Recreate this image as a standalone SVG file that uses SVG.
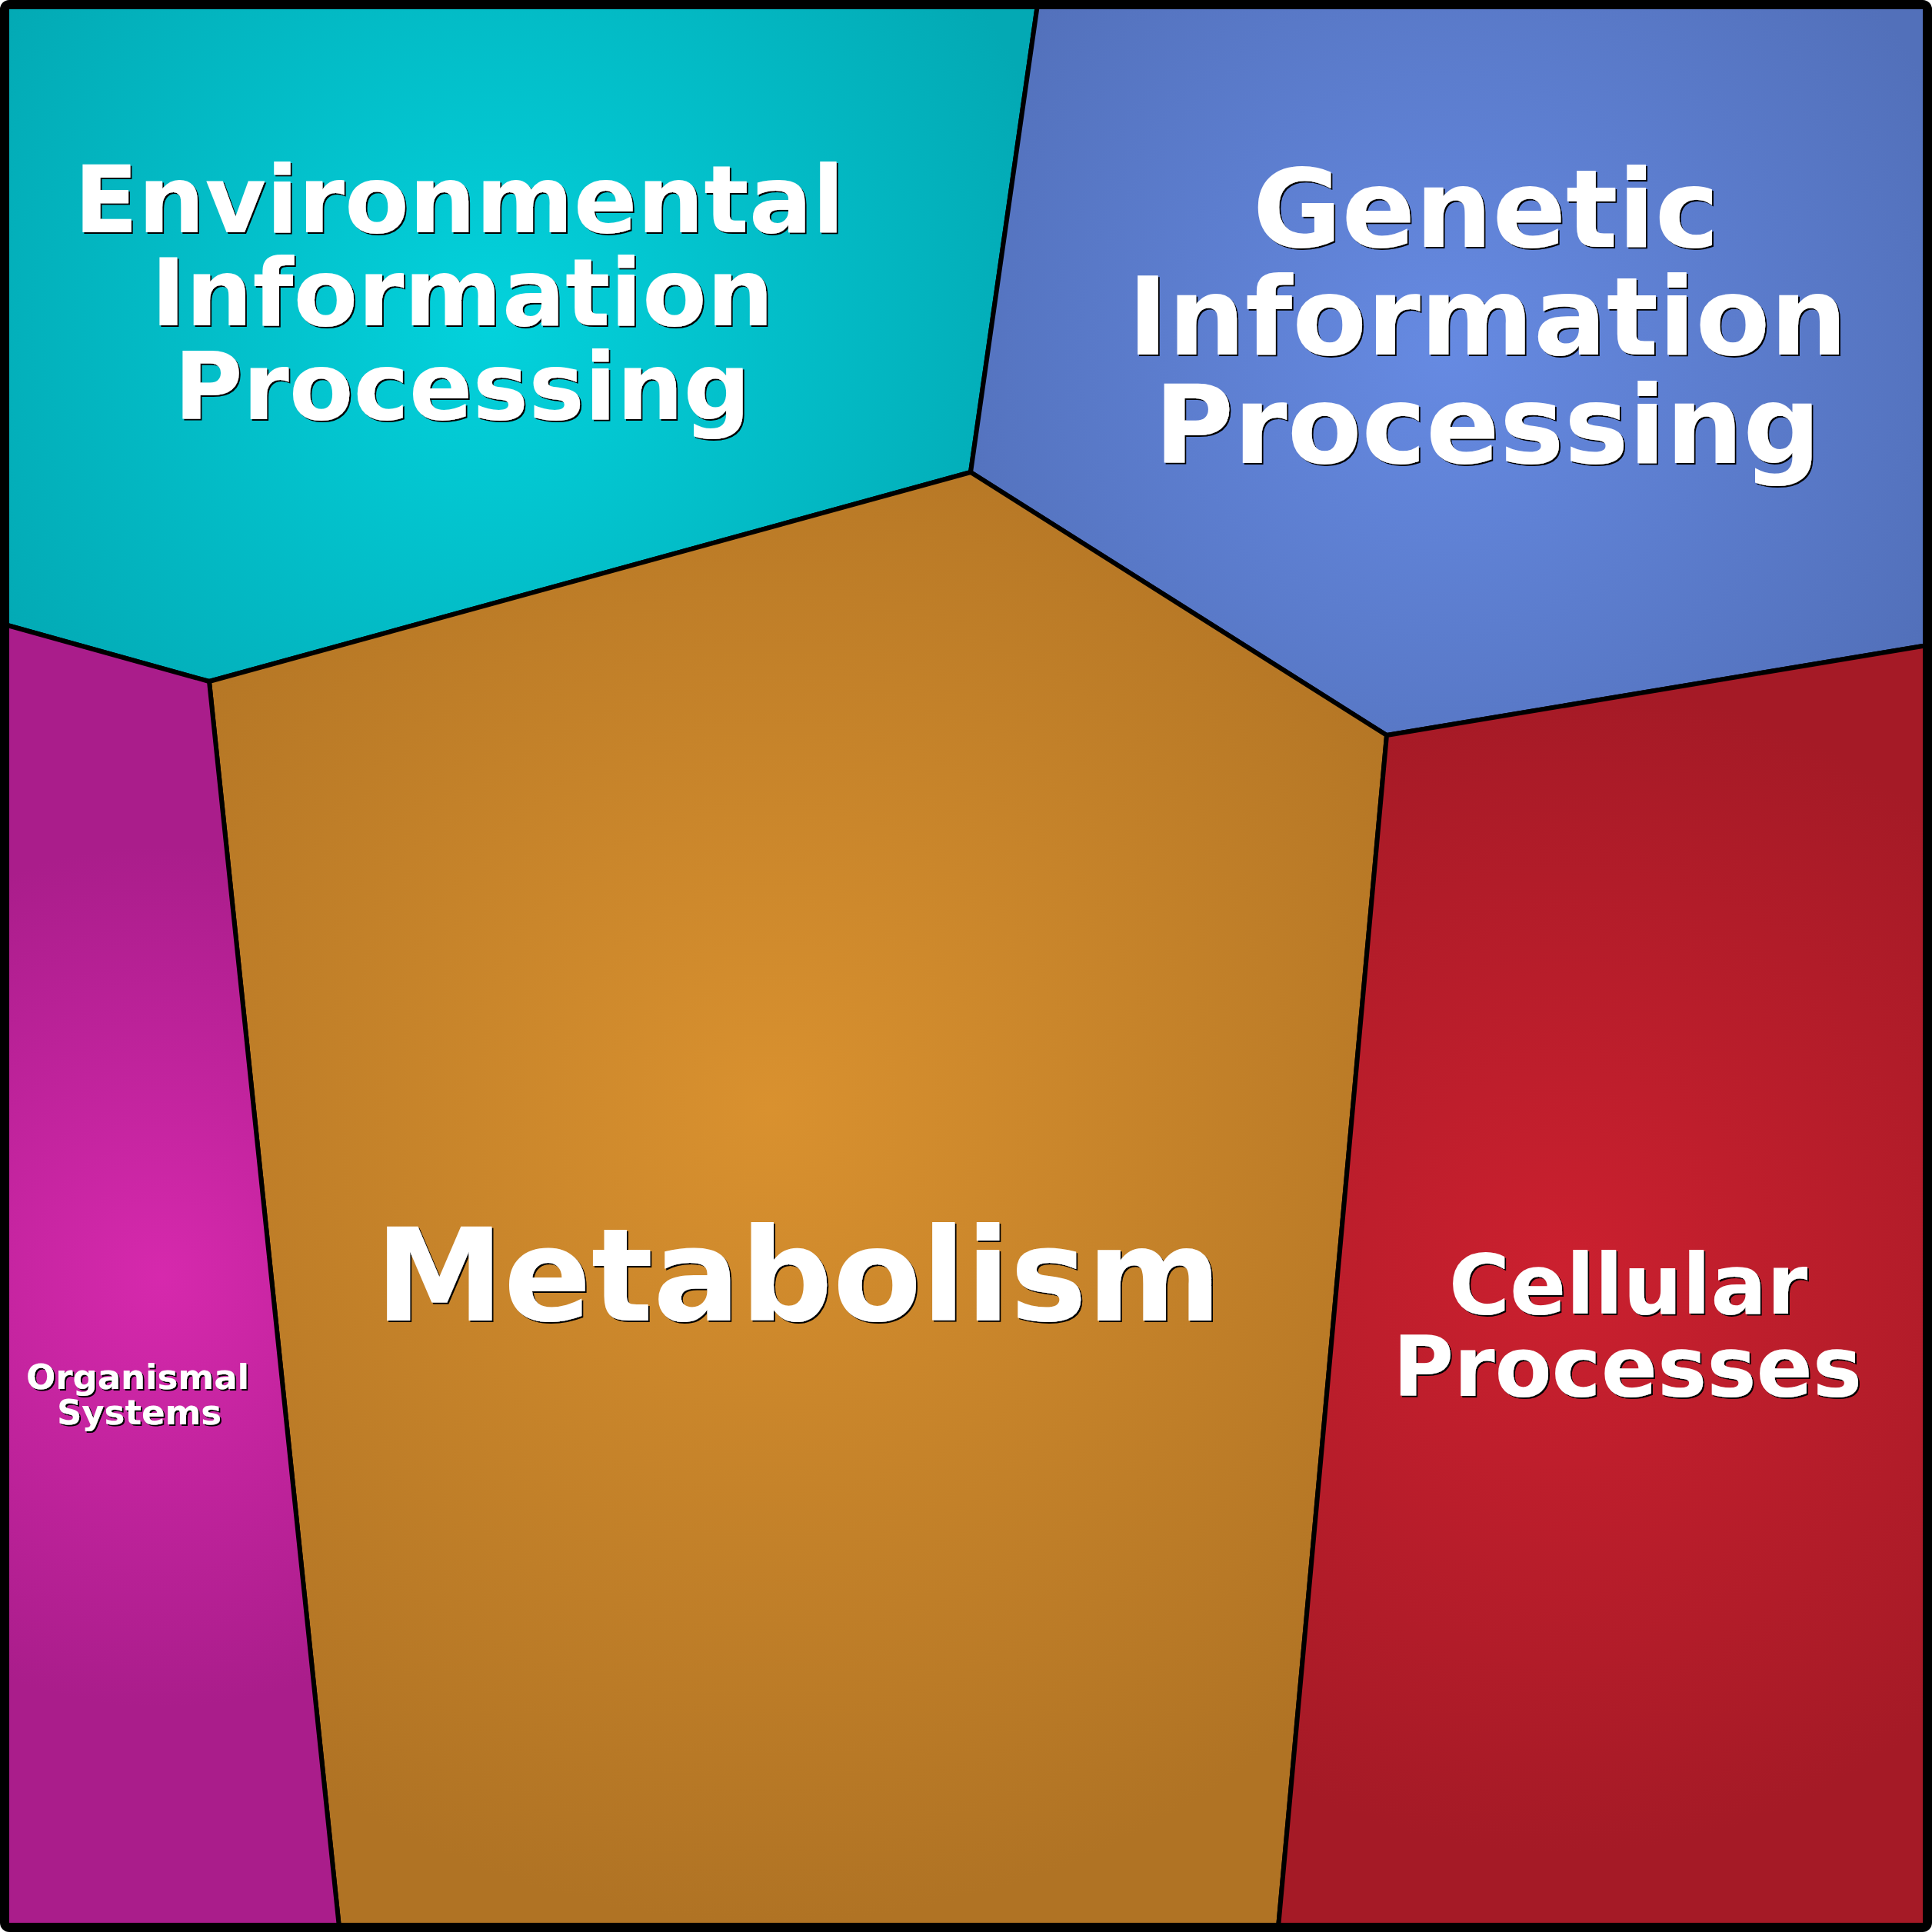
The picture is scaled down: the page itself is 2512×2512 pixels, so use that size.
<svg xmlns="http://www.w3.org/2000/svg" width="2512" height="2512" viewBox="0 0 2512 2512">
<style>
.cell{stroke:#000;stroke-width:6;stroke-linejoin:round}
.t{font-family:"DejaVu Sans","Liberation Sans",sans-serif;font-weight:bold;text-anchor:middle;fill:#fff;filter:url(#shadow)}
</style>
<defs>
<filter id="shadow" x="-5%" y="-20%" width="110%" height="140%">
<feOffset in="SourceAlpha" dx="2" dy="2" result="o"/>
<feMerge><feMergeNode in="o"/><feMergeNode in="SourceGraphic"/></feMerge>
</filter>
<radialGradient id="gEnv" gradientUnits="userSpaceOnUse" cx="640" cy="420" r="760">
<stop offset="0" stop-color="#03D2DC"/><stop offset="1" stop-color="#03A9B4"/>
</radialGradient>
<radialGradient id="gGen" gradientUnits="userSpaceOnUse" cx="1880" cy="460" r="720">
<stop offset="0" stop-color="#668AE2"/><stop offset="1" stop-color="#5270BA"/>
</radialGradient>
<radialGradient id="gMet" gradientUnits="userSpaceOnUse" cx="1000" cy="1440" r="1060">
<stop offset="0" stop-color="#D9912F"/><stop offset="1" stop-color="#B07324"/>
</radialGradient>
<radialGradient id="gOrg" gradientUnits="userSpaceOnUse" cx="210" cy="1660" r="560">
<stop offset="0" stop-color="#D629AD"/><stop offset="1" stop-color="#AA1D8B"/>
</radialGradient>
<radialGradient id="gCel" gradientUnits="userSpaceOnUse" cx="2030" cy="1650" r="760">
<stop offset="0" stop-color="#CB202F"/><stop offset="1" stop-color="#A51A26"/>
</radialGradient>
</defs>
<g id="environmental">
<polygon class="cell" fill="url(#gEnv)" points="6,6 1349,6 1262,614 272,886 6,812"/>
<g class="t" font-size="122">
<text x="597" y="302">Environmental</text>
<text x="601" y="423">Information</text>
<text x="601" y="545">Processing</text>
</g>
</g>
<g id="genetic">
<polygon class="cell" fill="url(#gGen)" points="1349,6 2506,6 2506,839 1803,956 1262,614"/>
<g class="t" font-size="141">
<text x="1932" y="321">Genetic</text>
<text x="1934" y="461">Information</text>
<text x="1934" y="602">Processing</text>
</g>
</g>
<g id="metabolism">
<polygon class="cell" fill="url(#gMet)" points="272,886 1262,614 1803,956 1662,2506 441,2506"/>
<g class="t" font-size="168">
<text x="1038" y="1717">Metabolism</text>
</g>
</g>
<g id="organismal">
<polygon class="cell" fill="url(#gOrg)" points="6,812 272,886 441,2506 6,2506"/>
<g class="t" font-size="45">
<text x="179" y="1806">Organismal</text>
<text x="181" y="1852">Systems</text>
</g>
</g>
<g id="cellular">
<polygon class="cell" fill="url(#gCel)" points="1803,956 2506,839 2506,2506 1662,2506"/>
<g class="t" font-size="108">
<text x="2117" y="1708">Cellular</text>
<text x="2116" y="1815">Processes</text>
</g>
</g>
<g id="connectors"/>
<rect x="6" y="6" width="2500" height="2500" rx="6" fill="none" stroke="#000" stroke-width="12"/>
</svg>
